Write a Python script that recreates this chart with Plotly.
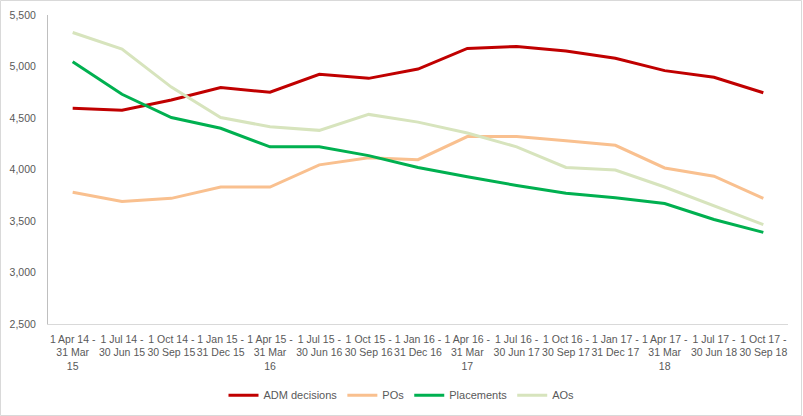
import plotly.graph_objects as go

categories = [
    "1 Apr 14 -<br>31 Mar<br>15", "1 Jul 14 -<br>30 Jun 15", "1 Oct 14 -<br>30 Sep 15",
    "1 Jan 15 -<br>31 Dec 15", "1 Apr 15 -<br>31 Mar<br>16", "1 Jul 15 -<br>30 Jun 16",
    "1 Oct 15 -<br>30 Sep 16", "1 Jan 16 -<br>31 Dec 16", "1 Apr 16 -<br>31 Mar<br>17",
    "1 Jul 16 -<br>30 Jun 17", "1 Oct 16 -<br>30 Sep 17", "1 Jan 17 -<br>31 Dec 17",
    "1 Apr 17 -<br>31 Mar<br>18", "1 Jul 17 -<br>30 Jun 18", "1 Oct 17 -<br>30 Sep 18",
]

adm_decisions = [4595, 4575, 4675, 4795, 4750, 4925, 4885, 4975, 5175, 5195, 5150, 5080, 4960, 4895, 4745]
pos = [3780, 3690, 3720, 3830, 3830, 4045, 4115, 4095, 4320, 4320, 4280, 4235, 4015, 3935, 3720]
placements = [5045, 4730, 4505, 4400, 4220, 4220, 4135, 4020, 3930, 3845, 3770, 3725, 3670, 3515, 3390]
aos = [5330, 5170, 4800, 4505, 4415, 4380, 4535, 4460, 4355, 4220, 4020, 3995, 3830, 3645, 3465]

y_ticks = [2500, 3000, 3500, 4000, 4500, 5000, 5500]

series = [
    ("ADM decisions", adm_decisions, "#C00000"),
    ("POs", pos, "#F9C08F"),
    ("Placements", placements, "#00B050"),
    ("AOs", aos, "#D7E4BD"),
]

fig = go.Figure()
for name, vals, color in series:
    fig.add_trace(go.Scatter(x=categories, y=vals, name=name, mode="lines",
                             line=dict(color=color, width=3)))

font = dict(family="Liberation Sans, Arial, sans-serif", size=10.5, color="#595959")

fig.update_layout(
    width=803, height=416,
    margin=dict(l=48, r=15, t=15, b=92, autoexpand=False),
    paper_bgcolor="white", plot_bgcolor="white",
    font=font,
    showlegend=True,
    legend=dict(orientation="h", xref="container", yref="container",
                x=0.5, xanchor="center", y=0.05, yanchor="middle",
                font=dict(family=font["family"], size=11, color="#595959"),
                itemwidth=30),
    xaxis=dict(type="category", range=[-0.5, 14.5], showgrid=False,
               showline=True, linecolor="#d9d9d9", linewidth=1,
               ticks="", tickangle=0, tickfont=font, automargin=False,
               ticklabelstandoff=5),
    yaxis=dict(range=[2500, 5500], tickvals=y_ticks, tickformat=",",
               showgrid=False, showline=True, linecolor="#bfbfbf", linewidth=1,
               ticks="", zeroline=False, tickfont=font, automargin=False,
               ticklabelstandoff=9),
    shapes=[dict(type="rect", xref="paper", yref="paper",
                 x0=-47.5/740, x1=(801.5-48)/740,
                 y0=(324-415.5)/309, y1=(324-0.5)/309,
                 line=dict(color="#d9d9d9", width=1))],
)

fig.write_html("out.html", config={"displayModeBar": False},
               post_script="document.body.style.margin='0';document.body.style.overflow='hidden';")
